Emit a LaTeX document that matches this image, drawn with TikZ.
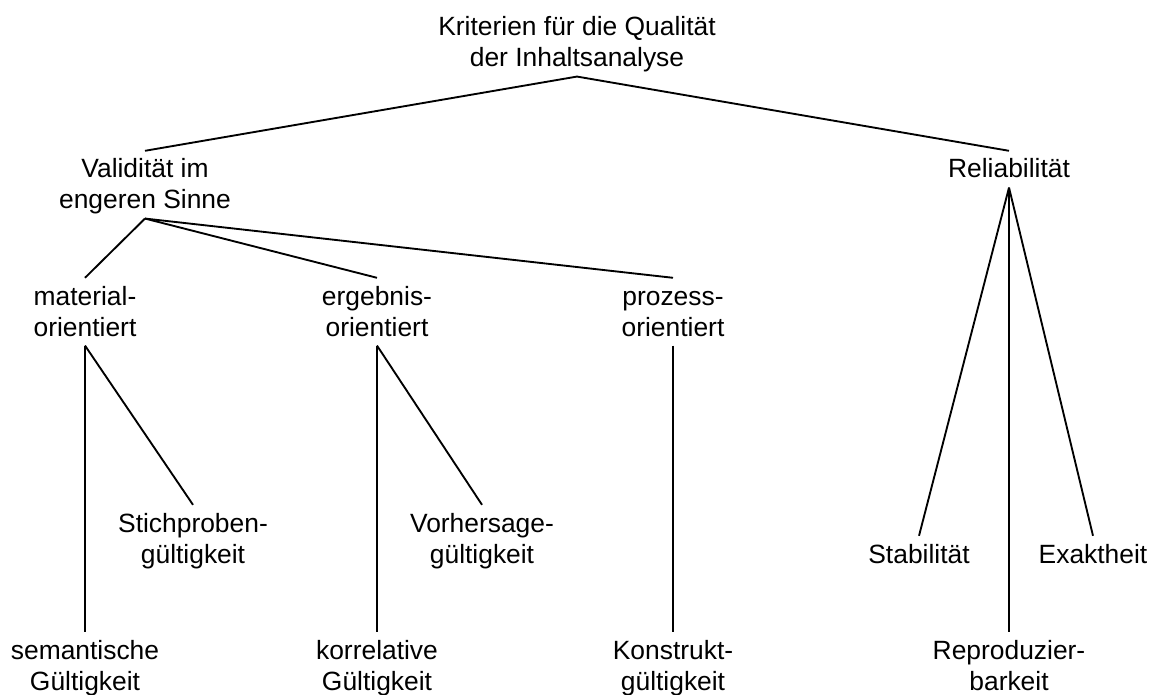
\documentclass[tikz,border=0pt]{standalone}
\usepackage{fontspec}
\setmainfont{Liberation Sans}
\newcommand\twol[2]{\begin{tabular}[t]{@{}c@{}}\rule{0pt}{20.2pt}#1\\#2\end{tabular}}
\newcommand\onel[1]{\begin{tabular}[t]{@{}c@{}}\rule{0pt}{20.2pt}#1\end{tabular}}
\begin{document}
\begin{tikzpicture}[x=0.75pt,y=-0.75pt,
  lbl/.style={inner sep=0pt, anchor=base, font=\fontsize{19.8pt}{23.25pt}\selectfont},
  edge/.style={line width=1.4pt, black}]
\useasboundingbox (0,0) rectangle (1155,695);
\node[lbl] (top) at (577,36) {\twol{Kriterien für die Qualität}{der Inhaltsanalyse}};
\node[lbl] (val) at (145,178) {\twol{Validität im}{engeren Sinne}};
\node[lbl] (rel) at (1009,178) {\onel{Reliabilität}};
\node[lbl] (mat) at (85,305) {\twol{material-}{orientiert}};
\node[lbl] (erg) at (377,305) {\twol{ergebnis-}{orientiert}};
\node[lbl] (pro) at (673,305) {\twol{prozess-}{orientiert}};
\node[lbl] (sti) at (193,532) {\twol{Stichproben-}{gültigkeit}};
\node[lbl] (vor) at (482,532) {\twol{Vorhersage-}{gültigkeit}};
\node[lbl] (sta) at (919,563) {\onel{Stabilität}};
\node[lbl] (exa) at (1093,563) {\onel{Exaktheit}};
\node[lbl] (sem) at (85,659) {\twol{semantische}{Gültigkeit}};
\node[lbl] (kor) at (377,659) {\twol{korrelative}{Gültigkeit}};
\node[lbl] (kon) at (673,659) {\twol{Konstrukt-}{gültigkeit}};
\node[lbl] (rep) at (1009,659) {\twol{Reproduzier-}{barkeit}};
\draw[edge] (val.north) -- (top.south) -- (rel.north);
\draw[edge] (val.south) -- (mat.north);
\draw[edge] (val.south) -- (erg.north);
\draw[edge] (val.south) -- (pro.north);
\draw[edge] (mat.south) -- (sem.north);
\draw[edge] (mat.south) -- (sti.north);
\draw[edge] (erg.south) -- (kor.north);
\draw[edge] (erg.south) -- (vor.north);
\draw[edge] (pro.south) -- (kon.north);
\draw[edge] (rel.south) -- (sta.north);
\draw[edge] (rel.south) -- (rep.north);
\draw[edge] (rel.south) -- (exa.north);
\end{tikzpicture}
\end{document}
